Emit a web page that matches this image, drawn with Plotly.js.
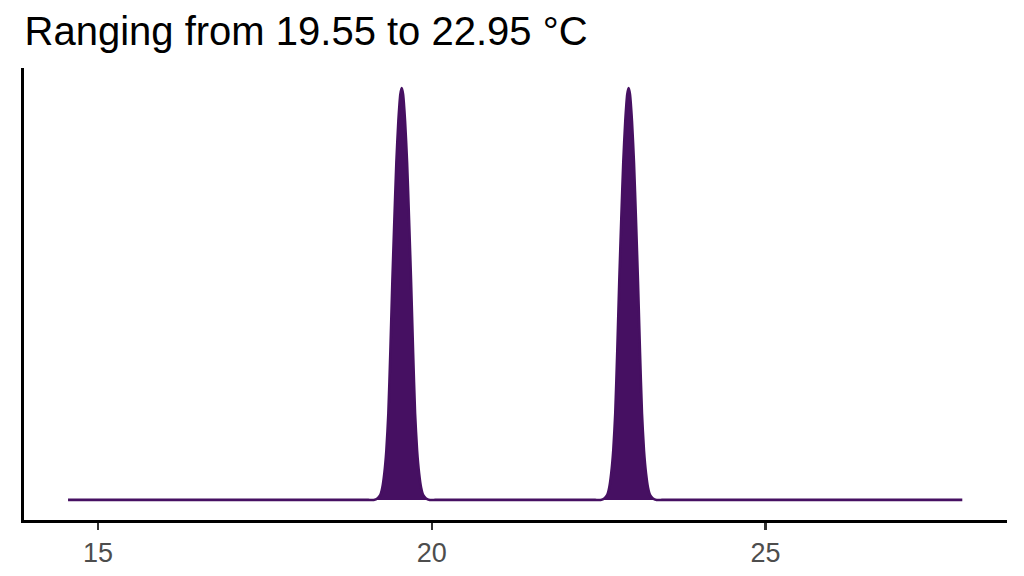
<!DOCTYPE html>
<html>
<head>
<meta charset="utf-8">
<script src="https://cdn.plot.ly/plotly-3.0.1.min.js"></script>
<style>
  html, body { margin: 0; padding: 0; background: #fff; }
  #graph { width: 1024px; height: 576px; }
</style>
</head>
<body>
<div id="graph"></div>
<script>
const tempC = [
    14.55, 14.65, 18.95, 19.05,
    19.13, 19.19, 19.23, 19.26, 19.29, 19.32, 19.35, 19.38, 19.41, 19.44, 19.47, 19.50, 19.53,
    19.55,
    19.57, 19.60, 19.63, 19.66, 19.69, 19.72, 19.75, 19.78, 19.81, 19.84, 19.87, 19.91, 19.97,
    20.05, 20.15, 22.35, 22.45,
    22.53, 22.59, 22.63, 22.66, 22.69, 22.72, 22.75, 22.78, 22.81, 22.84, 22.87, 22.90, 22.93,
    22.95,
    22.97, 23.00, 23.03, 23.06, 23.09, 23.12, 23.15, 23.18, 23.21, 23.24, 23.27, 23.31, 23.37,
    23.45, 23.55, 27.85, 27.95
];
const density = [
    0, 0, 0, 0,
    0, 0.007, 0.020, 0.050, 0.108, 0.199, 0.349, 0.598, 0.880, 1.129, 1.361, 1.527, 1.635,
    1.660,
    1.635, 1.527, 1.361, 1.129, 0.880, 0.598, 0.349, 0.199, 0.108, 0.050, 0.020, 0.007, 0,
    0, 0, 0, 0,
    0, 0.007, 0.020, 0.050, 0.108, 0.199, 0.349, 0.598, 0.880, 1.129, 1.361, 1.527, 1.635,
    1.660,
    1.635, 1.527, 1.361, 1.129, 0.880, 0.598, 0.349, 0.199, 0.108, 0.050, 0.020, 0.007, 0,
    0, 0, 0, 0
];
const tickVals = [15, 20, 25];
const tickText = ['15', '20', '25'];
const minTemp = 19.55;
const maxTemp = 22.95;

const fillColor = '#461062';

const trace = {
    x: tempC,
    y: density,
    type: 'scatter',
    mode: 'lines',
    fill: 'tozeroy',
    fillcolor: fillColor,
    line: { color: fillColor, width: 2.6, shape: 'spline', smoothing: 0.6 },
    hoverinfo: 'x+y'
};

const layout = {
    width: 1024,
    height: 576,
    margin: { l: 24, r: 17, t: 68, b: 56 },
    paper_bgcolor: '#ffffff',
    plot_bgcolor: '#ffffff',
    showlegend: false,
    font: { family: 'Liberation Sans, Arial, sans-serif' },
    title: {
        text: `Ranging from ${minTemp.toFixed(2)} to ${maxTemp.toFixed(2)} °C`,
        font: { size: 40, color: '#000000' },
        x: 0.024, xanchor: 'left', xref: 'container',
        y: 0.946, yanchor: 'middle', yref: 'container'
    },
    xaxis: {
        range: [13.89, 28.62],
        showgrid: false,
        zeroline: false,
        showline: true,
        linecolor: '#000000',
        linewidth: 2.6,
        ticks: 'outside',
        ticklen: 7,
        tickwidth: 2.4,
        tickcolor: '#333333',
        tickvals: tickVals,
        ticktext: tickText,
        tickfont: { size: 27, color: '#4d4d4d' }
    },
    yaxis: {
        range: [-0.081, 1.741],
        showgrid: false,
        zeroline: false,
        showline: true,
        linecolor: '#000000',
        linewidth: 2.6,
        ticks: '',
        showticklabels: false
    }
};

Plotly.newPlot('graph', [trace], layout, { displayModeBar: false, staticPlot: true });
</script>
</body>
</html>
